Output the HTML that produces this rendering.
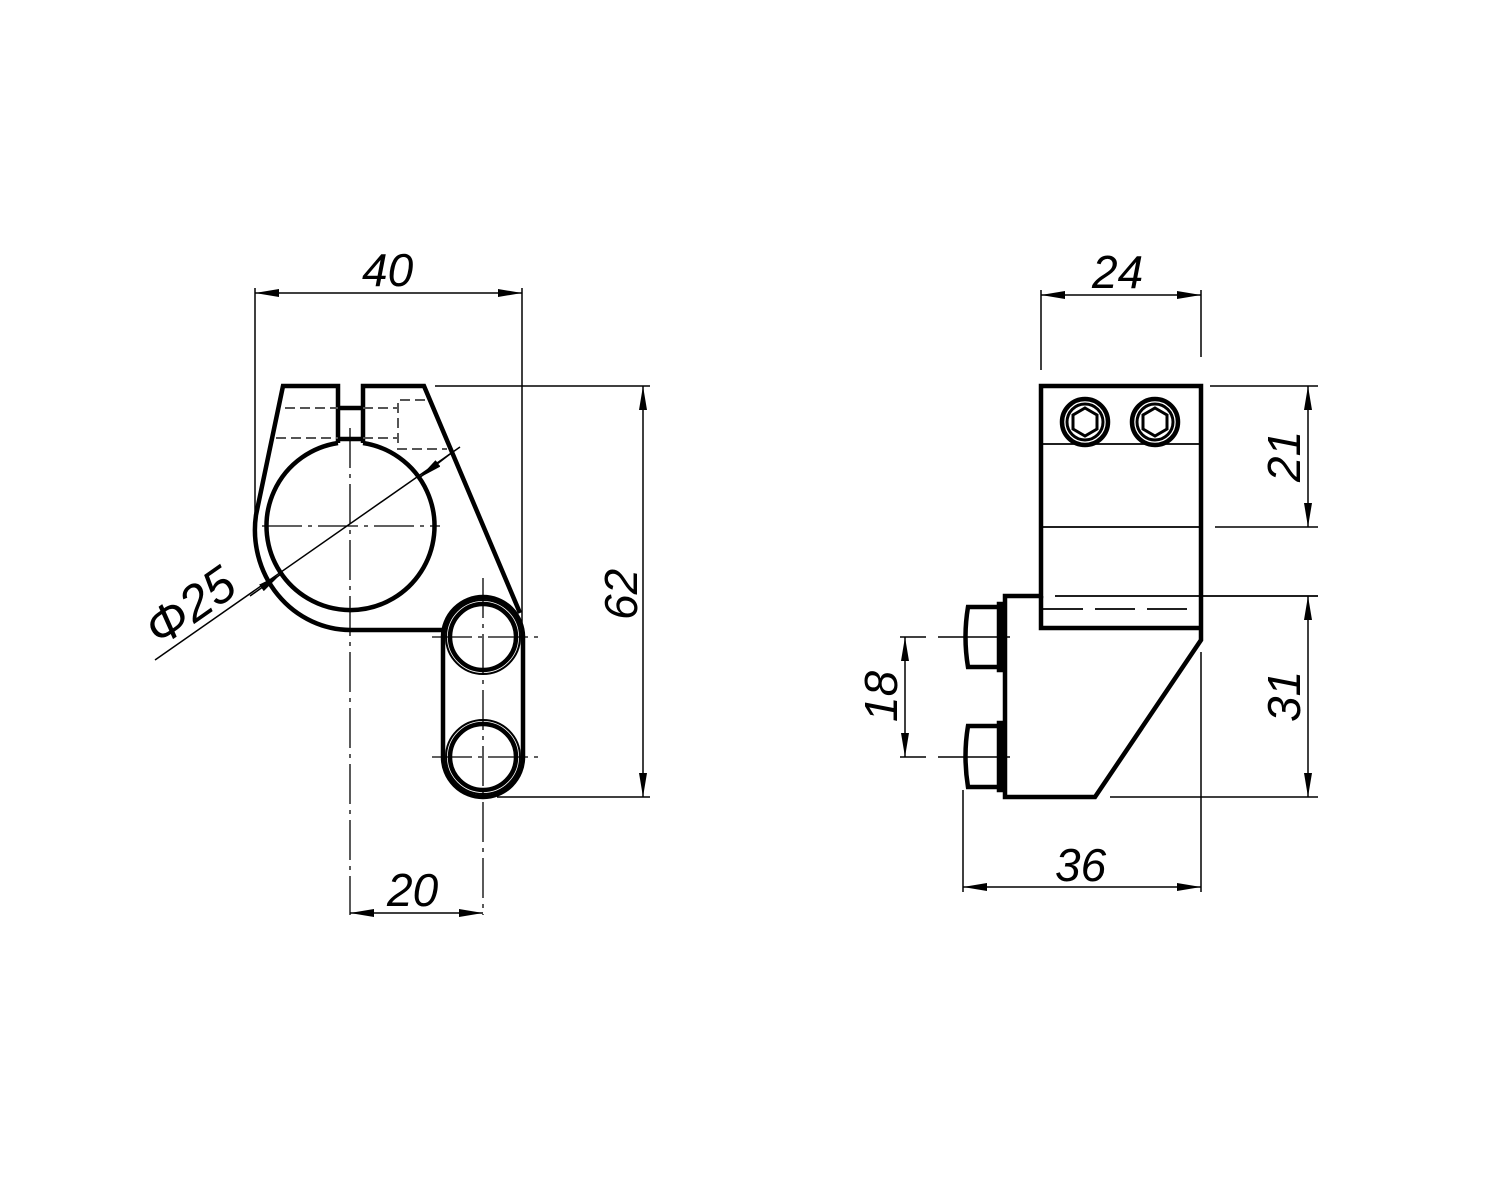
<!DOCTYPE html>
<html><head><meta charset="utf-8"><style>
html,body{margin:0;padding:0;background:#fff}
svg{display:block}
text{font-family:"Liberation Sans",sans-serif;font-style:italic;font-size:46px;fill:#000}
</style></head><body>
<svg width="1500" height="1200" viewBox="0 0 1500 1200" xmlns="http://www.w3.org/2000/svg">
<defs>
<marker id="a" viewBox="0 0 24 8" refX="24" refY="4" markerWidth="24" markerHeight="8" markerUnits="userSpaceOnUse" orient="auto-start-reverse"><path d="M0,0 L24,4 L0,8 Z" fill="#000"/></marker>
</defs>
<g fill="none" stroke="#000">
<g stroke-width="4.5">
<path d="M338,443 L338,386 L283,386 L256,515 A96,100 0 0 0 350,630 L445,630"/>
<path d="M363,443 L363,386 L424,386 L520,613"/>
<path d="M338,443 A84,84 0 1 0 363,443"/>
<line x1="340" y1="408" x2="361" y2="408"/>
<line x1="340" y1="439" x2="361" y2="439"/>
<path d="M443,637 L443,757 A40,40 0 0 0 523,757 L523,637 A40,40 0 0 0 443,637 Z"/>
<circle cx="483" cy="637" r="33"/>
<circle cx="483" cy="757" r="33"/>
</g>
<g stroke-width="2">
<circle cx="483" cy="637" r="37"/>
<circle cx="483" cy="757" r="37"/>
</g>
<g stroke-width="2" stroke-dasharray="10,5" stroke="#555">
<line x1="285" y1="408" x2="338" y2="408"/>
<line x1="363" y1="408" x2="398" y2="408"/>
<line x1="276" y1="438" x2="338" y2="438"/>
<line x1="363" y1="438" x2="398" y2="438"/>
<path d="M425,400 L398,400 L398,449 L447,449"/>
</g>
<g stroke-width="1.3" stroke-dasharray="40,6,4,6">
<line x1="350" y1="428" x2="350" y2="915"/>
<line x1="262" y1="526" x2="440" y2="526"/>
<line x1="483" y1="578" x2="483" y2="915"/>
<line x1="432" y1="637" x2="538" y2="637"/>
<line x1="432" y1="757" x2="538" y2="757"/>
</g>
<g stroke-width="1.5">
<line x1="255" y1="288" x2="255" y2="520"/>
<line x1="522" y1="288" x2="522" y2="636"/>
<line x1="255" y1="293" x2="522" y2="293" marker-start="url(#a)" marker-end="url(#a)"/>
<line x1="435" y1="386" x2="650" y2="386"/>
<line x1="497" y1="797" x2="650" y2="797"/>
<line x1="643" y1="386" x2="643" y2="797" marker-start="url(#a)" marker-end="url(#a)"/>
<line x1="350" y1="913" x2="483" y2="913" marker-start="url(#a)" marker-end="url(#a)"/>
<line x1="460" y1="447" x2="155" y2="660"/>
<line x1="450" y1="454" x2="419" y2="478" marker-end="url(#a)"/>
<line x1="250" y1="596" x2="281" y2="574" marker-end="url(#a)"/>
</g>
<g stroke-width="4.5">
<path d="M1041,386 L1201,386 L1201,640 L1095,797 L1005,797 L1005,596 L1041,596 Z"/>
<path d="M1041,596 L1041,628 L1201,628"/>
<path d="M1000,607 L968,607 Q963,637 968,667 L1000,667 Z"/>
<path d="M1000,726 L968,726 Q963,756 968,787 L1000,787 Z"/>
<rect x="999" y="604" width="5" height="66"/>
<rect x="999" y="723" width="5" height="67"/>
<circle cx="1085" cy="422" r="23"/>
<circle cx="1155" cy="422" r="23"/>
</g>
<g stroke-width="3">
<circle cx="1085" cy="422" r="18"/>
<circle cx="1155" cy="422" r="18"/>
<polygon points="1085,408 1097,415 1097,429 1085,436 1073,429 1073,415"/>
<polygon points="1155,408 1167,415 1167,429 1155,436 1143,429 1143,415"/>
</g>
<g stroke-width="1.8">
<line x1="1043" y1="444" x2="1199" y2="444"/>
<line x1="1043" y1="527" x2="1199" y2="527"/>
<line x1="1055" y1="596" x2="1318" y2="596"/>
<line x1="1043" y1="609" x2="1199" y2="609" stroke-dasharray="40,12"/>
</g>
<g stroke-width="1.5">
<line x1="1041" y1="290" x2="1041" y2="370"/>
<line x1="1201" y1="290" x2="1201" y2="357"/>
<line x1="1041" y1="295" x2="1201" y2="295" marker-start="url(#a)" marker-end="url(#a)"/>
<line x1="1210" y1="386" x2="1318" y2="386"/>
<line x1="1215" y1="527" x2="1318" y2="527"/>
<line x1="1308" y1="386" x2="1308" y2="527" marker-start="url(#a)" marker-end="url(#a)"/>
<line x1="1110" y1="797" x2="1318" y2="797"/>
<line x1="1308" y1="596" x2="1308" y2="797" marker-start="url(#a)" marker-end="url(#a)"/>
<line x1="900" y1="637" x2="1010" y2="637" stroke-dasharray="26,12,200,0"/>
<line x1="900" y1="757" x2="1010" y2="757" stroke-dasharray="26,12,200,0"/>
<line x1="905" y1="637" x2="905" y2="757" marker-start="url(#a)" marker-end="url(#a)"/>
<line x1="963" y1="790" x2="963" y2="892"/>
<line x1="1201" y1="652" x2="1201" y2="892"/>
<line x1="963" y1="887" x2="1201" y2="887" marker-start="url(#a)" marker-end="url(#a)"/>
</g>
</g>
<text x="362" y="286">40</text>
<text x="1092" y="288">24</text>
<text x="387" y="906">20</text>
<text x="1055" y="881">36</text>
<text transform="translate(637,620) rotate(-90)">62</text>
<text transform="translate(1300,482) rotate(-90)">21</text>
<text transform="translate(1300,722) rotate(-90)">31</text>
<text transform="translate(897,722) rotate(-90)">18</text>
<text transform="translate(160,648) rotate(-35)" style="font-size:50px">Φ25</text>
</svg>
</body></html>
